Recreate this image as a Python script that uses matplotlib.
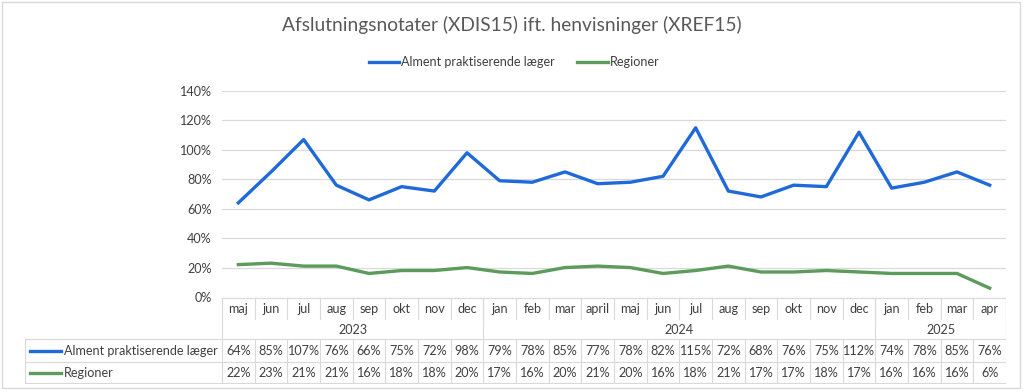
import matplotlib.pyplot as plt
from matplotlib.patches import Rectangle
from matplotlib.ticker import FuncFormatter

# data
months = ['maj', 'jun', 'jul', 'aug', 'sep', 'okt', 'nov', 'dec',
          'jan', 'feb', 'mar', 'april', 'maj', 'jun', 'jul', 'aug', 'sep', 'okt', 'nov', 'dec',
          'jan', 'feb', 'mar', 'apr']
years = ['2023', '2024', '2025']
year_counts = [8, 12, 4]
laeger = [64, 85, 107, 76, 66, 75, 72, 98,
          79, 78, 85, 77, 78, 82, 115, 72, 68, 76, 75, 112,
          74, 78, 85, 76]
regioner = [22, 23, 21, 21, 16, 18, 18, 20,
            17, 16, 20, 21, 20, 16, 18, 21, 17, 17, 18, 17,
            16, 16, 16, 6]
series_names = ['Alment praktiserende læger', 'Regioner']

blue = '#1f6ad8'
green = '#5c9b5c'
grid_col = '#d9d9d9'
txt_col = '#404040'
fs = 9.1

plt.rcParams['font.family'] = ['Lato', 'DejaVu Sans']

W, H = 1024, 392
fig = plt.figure(figsize=(W / 100, H / 100), dpi=100)

def px_axes(l, t, r, b):
    return fig.add_axes([l / W, 1 - b / H, (r - l) / W, (b - t) / H])

# outer chart border
fig.patches.append(Rectangle((2 / W, 1 - 388 / H), 1018 / W, 386 / H, transform=fig.transFigure,
                             fill=False, edgecolor=grid_col, linewidth=1))

fig.text(512 / W, 1 - 25 / H, 'Afslutningsnotater (XDIS15) ift. henvisninger (XREF15)',
         ha='center', va='center', fontsize=13.8, color='#595959')

# main plot
ax = px_axes(222, 91, 1006, 297)
x = list(range(len(months)))
ax.plot(x, laeger, color=blue, linewidth=2.4, label=series_names[0])
ax.plot(x, regioner, color=green, linewidth=2.4, label=series_names[1])
ax.set_xlim(-0.5, len(months) - 0.5)
ax.set_ylim(0, 140)
ax.set_yticks(range(0, 141, 20))
ax.yaxis.set_major_formatter(FuncFormatter(lambda v, p: f'{v:.0f}%'))
ax.tick_params(axis='y', length=0, pad=7.5, labelsize=fs, labelcolor=txt_col)
ax.set_xticks([])
ax.grid(axis='y', color=grid_col, linewidth=0.9)
ax.set_axisbelow(True)
for s in ax.spines.values():
    s.set_visible(False)

leg = fig.legend(loc='center', bbox_to_anchor=(514 / W, 1 - 62 / H), ncol=2, frameon=False,
                 fontsize=fs, handlelength=2.4, handletextpad=0.15, columnspacing=1.8,
                 borderpad=0, borderaxespad=0)
for t in leg.get_texts():
    t.set_color(txt_col)

# data table underneath
n = len(months)
col_px = (1006 - 222) / n
label_w = 197 / col_px
tab = px_axes(25, 297, 1006, 384)
tab.set_xlim(-0.5 - label_w, n - 0.5)
tab.set_ylim(384, 297)
tab.axis('off')
lw = 0.8
left = -0.5 - label_w
right = n - 0.5
# horizontal lines
tab.plot([-0.5, right], [298, 298], color=grid_col, lw=lw)
for yy in (339, 362, 383):
    tab.plot([left, right], [yy, yy], color=grid_col, lw=lw)
# vertical lines
tab.plot([left, left], [339, 383], color=grid_col, lw=lw)
tab.plot([right, right], [298, 383], color=grid_col, lw=lw)
for i in range(n + 1):
    tab.plot([i - 0.5, i - 0.5], [298, 319] if i > 0 else [298, 383], color=grid_col, lw=lw)
    if 0 < i < n:
        tab.plot([i - 0.5, i - 0.5], [339, 383], color=grid_col, lw=lw)
start = 0
for yr, cnt in zip(years, year_counts):
    tab.plot([start + cnt - 0.5] * 2, [298, 339], color=grid_col, lw=lw)
    tab.text(start + (cnt - 1) / 2, 329.5, yr, ha='center', va='center', fontsize=fs, color=txt_col)
    start += cnt
for i, m in enumerate(months):
    tab.text(i, 309, m, ha='center', va='center', fontsize=fs, color=txt_col)
    tab.text(i, 351, f'{laeger[i]}%', ha='center', va='center', fontsize=fs, color=txt_col)
    tab.text(i, 373, f'{regioner[i]}%', ha='center', va='center', fontsize=fs, color=txt_col)
for yy, name, col in ((351, series_names[0], blue), (373, series_names[1], green)):
    tab.plot([left + 5 / col_px, left + 36 / col_px], [yy, yy], color=col, lw=2.4)
    tab.text(left + 39 / col_px, yy, name, ha='left', va='center', fontsize=fs, color=txt_col)

fig.savefig('out.png', dpi=100)
